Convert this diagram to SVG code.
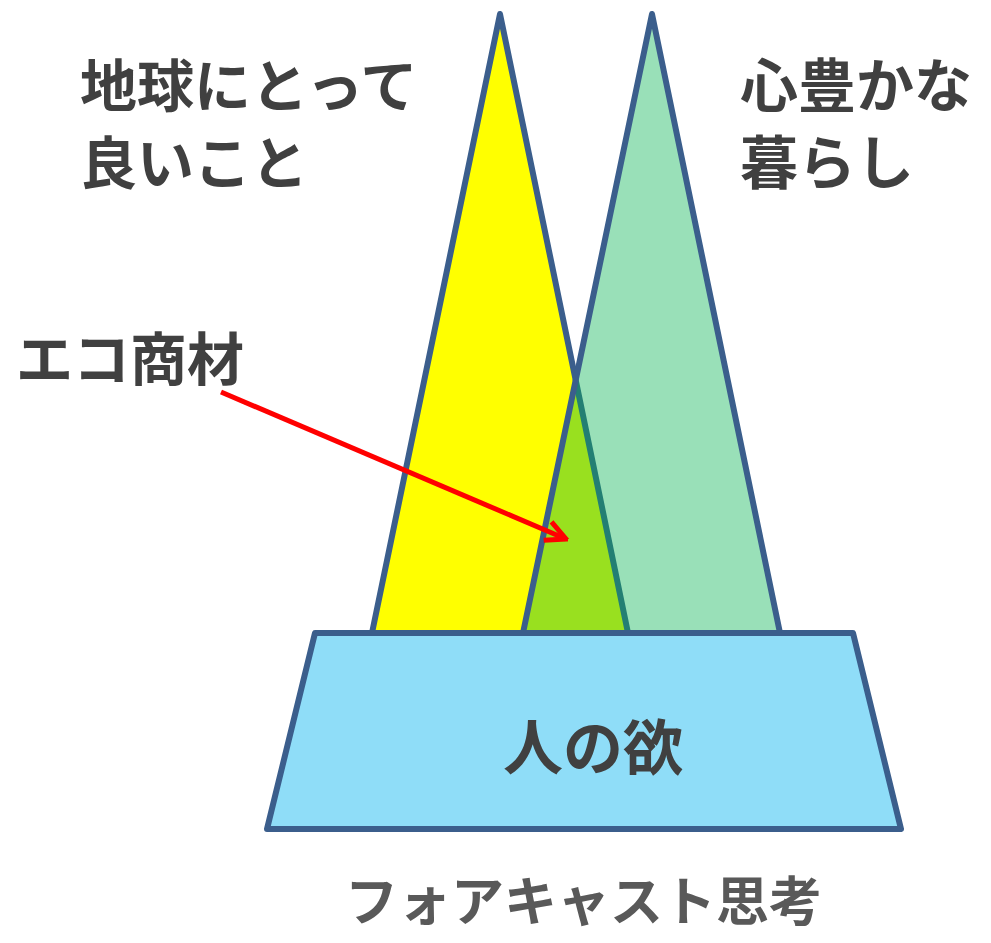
<svg xmlns="http://www.w3.org/2000/svg" width="991" height="943" viewBox="0 0 991 943">
<defs>
<style>
.t{font-family:"Noto Sans CJK JP","Noto Sans CJK SC",sans-serif;font-weight:700;fill:#404040}
.edge{stroke:#3B5E8C;stroke-width:6;stroke-linejoin:round}
</style>
<marker id="ah" viewBox="0 0 10 10" refX="9" refY="5" markerWidth="5" markerHeight="5" orient="auto" markerUnits="strokeWidth">
<path d="M1,1 L9,5 L1,9" fill="none" stroke="#FF0000" stroke-width="2"/>
</marker>
</defs>
<rect width="991" height="943" fill="#ffffff"/>
<g id="yellow-triangle">
<polygon class="edge" points="500,14 628,633 372,633" fill="#FFFF00"/>
</g>
<g id="green-triangle">
<polygon points="652,14 780,633 523,633" fill="#00B14D" fill-opacity="0.4" stroke="none"/>
<polyline class="edge" points="523,633 652,14 780,633" fill="none"/>
</g>
<g id="base">
<polygon class="edge" points="315,633 853,633 901,829 267,829" fill="#8FDDF8"/>
<text class="t" x="593" y="770" font-size="60" text-anchor="middle">人の欲</text>
</g>
<g id="label-earth">
<text class="t" x="80" y="107" font-size="57">地球にとって</text>
<text class="t" x="80" y="184" font-size="57">良いこと</text>
</g>
<g id="label-life">
<text class="t" x="740" y="107" font-size="58">心豊かな</text>
<text class="t" x="740" y="184" font-size="58">暮らし</text>
</g>
<g id="label-eco">
<text class="t" x="16" y="380" font-size="57">エコ商材</text>
</g>
<g id="label-forecast">
<text class="t" x="345" y="921" font-size="53" style="fill:#595959">フォアキャスト思考</text>
</g>
<g id="connectors">
<line x1="221" y1="392" x2="566" y2="539" stroke="#FF0000" stroke-width="5" marker-end="url(#ah)"/>
</g>
</svg>
